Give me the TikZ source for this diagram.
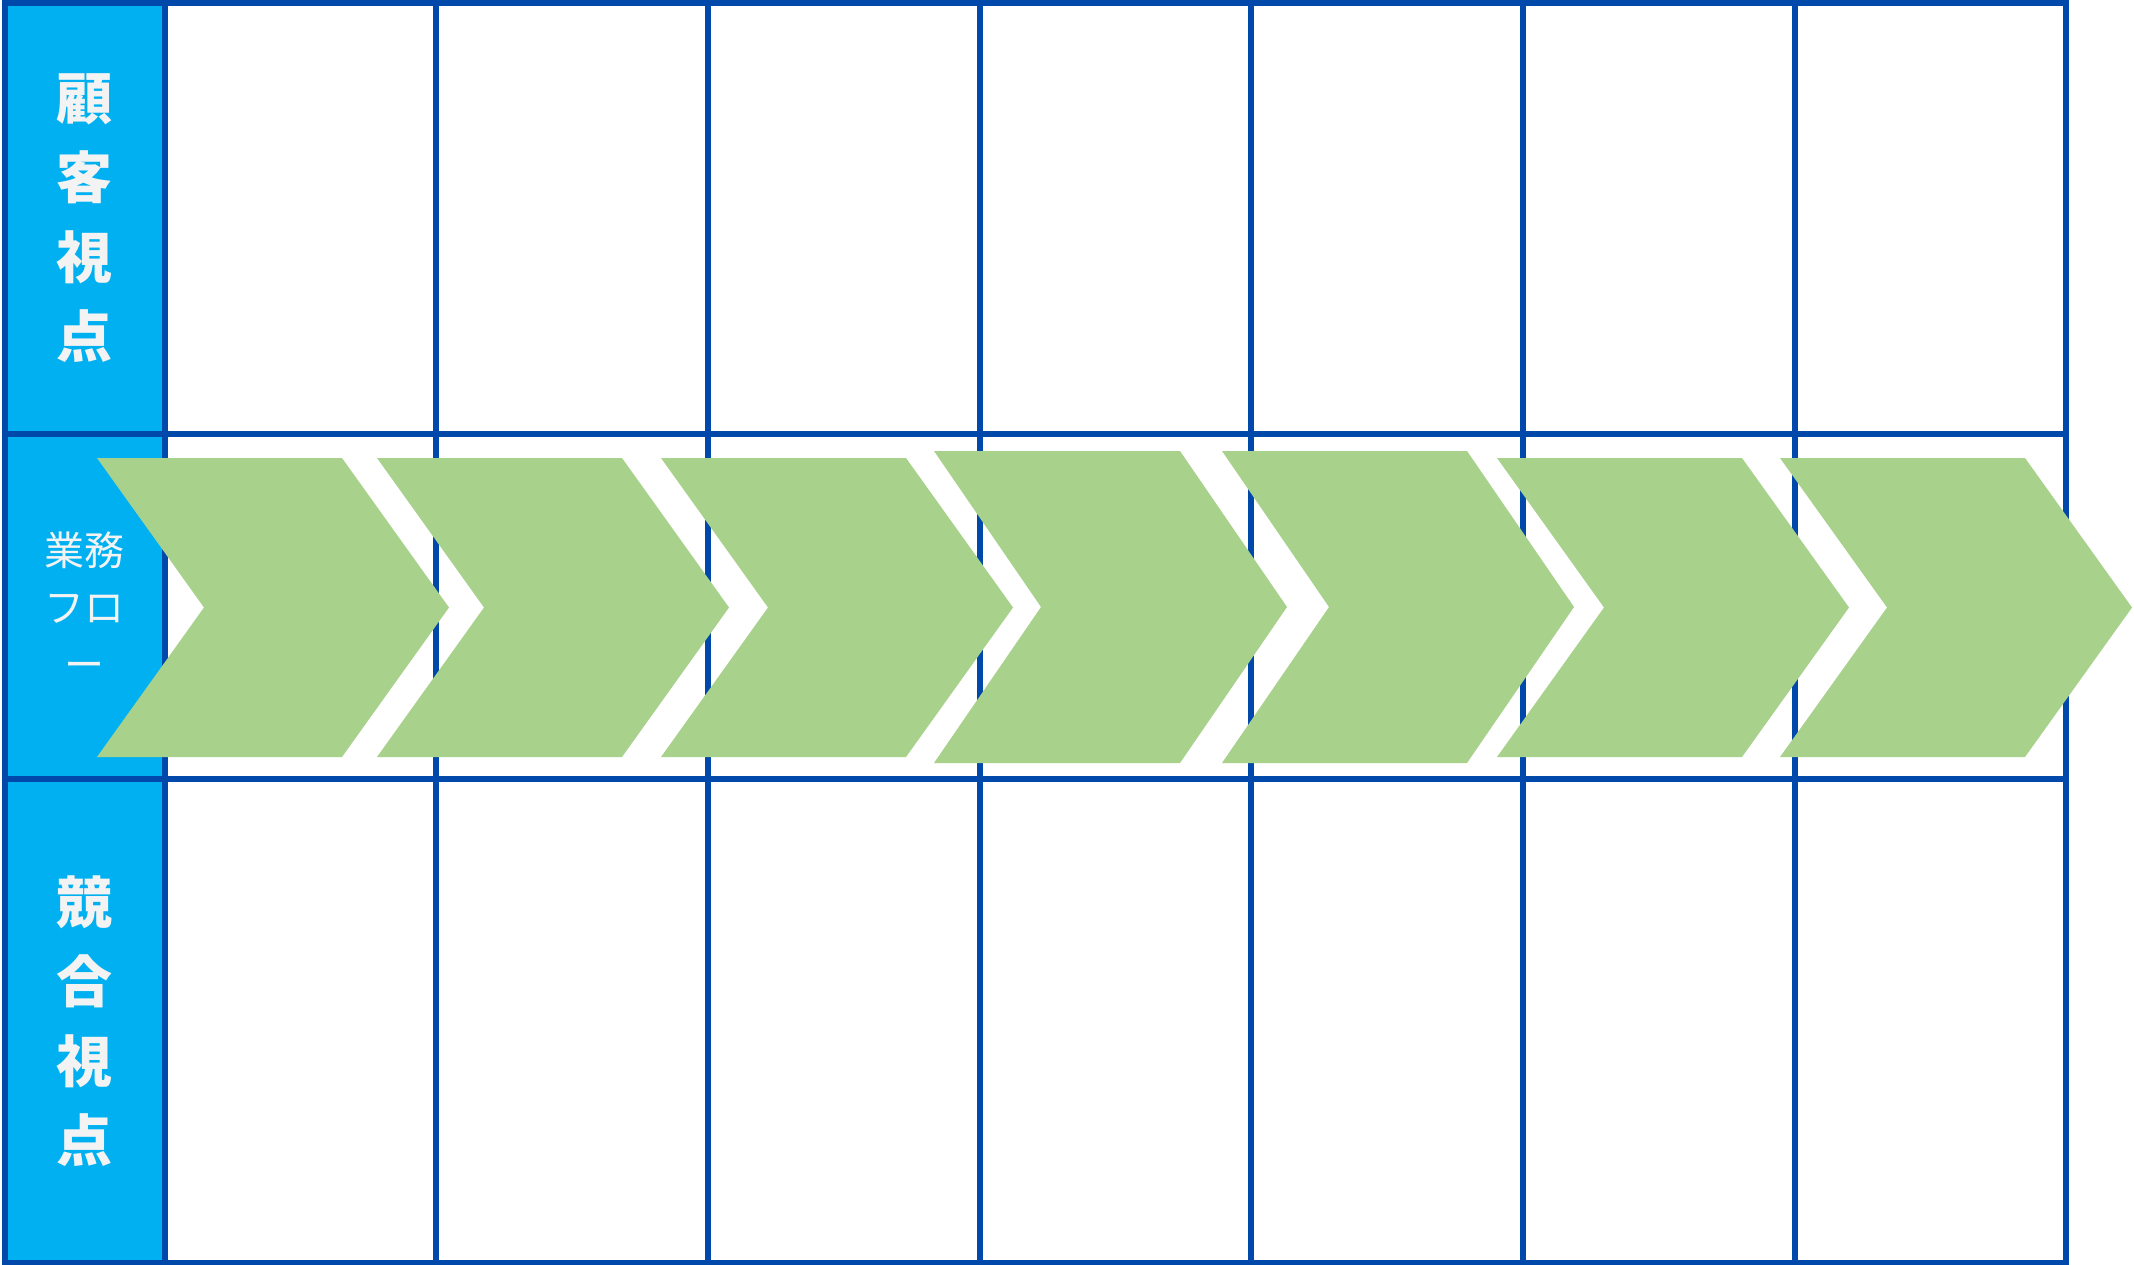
\documentclass[tikz,border=0pt]{standalone}
\usepackage{fontspec}
\newfontfamily\jpfont{Noto Sans CJK JP}
\definecolor{gridblue}{RGB}{0,72,170}
\definecolor{headcyan}{RGB}{0,176,240}
\definecolor{chevgreen}{RGB}{168,209,140}
\definecolor{labelwhite}{RGB}{243,243,243}
\tikzset{
  gridline/.style={draw=gridblue, line width=6pt},
  chevron/.style={fill=chevgreen, draw=none},
  headbold/.style={text=labelwhite, align=center, font=\jpfont\bfseries\fontsize{56}{79.5}\selectfont, inner sep=0pt},
  headreg/.style={text=labelwhite, align=center, font=\jpfont\fontsize{40}{57}\selectfont, inner sep=0pt}
}
\newcommand{\chev}[4]{% left x, top y, bottom y, width
  \path[chevron] (#1,#2) -- ({#1+#4-107},#2) -- ({#1+#4},{(#2+#3)/2}) -- ({#1+#4-107},#3) -- (#1,#3) -- ({#1+107},{(#2+#3)/2}) -- cycle;}
\begin{document}
\begin{tikzpicture}[x=1pt,y=-1pt]
\useasboundingbox[fill=white] (0,0) rectangle (2134,1265);
% left header column
\fill[headcyan] (4.5,3) rectangle (165,1262.5);
% grid
\foreach \xx in {165,436,708,980,1251,1523,1794.5}
  \draw[gridline] (\xx,3) -- (\xx,1262.5);
\draw[gridline] (4.5,434) -- (2066,434);
\draw[gridline] (4.5,779) -- (2066,779);
\draw[gridline] (4.5,3) rectangle (2066,1262.5);
% chevrons
\chev{97}{458}{757}{352}
\chev{377}{458}{757}{352}
\chev{661}{458}{757}{352}
\chev{934}{451}{763}{353}
\chev{1222}{451}{763}{352}
\chev{1497}{458}{757}{352}
\chev{1780}{458}{757}{352}
% labels
\node[headbold] (customer) at (84.5,218) {顧\\客\\視\\点};
\node[headreg] (flow) at (84.5,606) {業務\\フロ\\ー};
\node[headbold] (competitor) at (84.5,1021) {競\\合\\視\\点};
\end{tikzpicture}
\end{document}
